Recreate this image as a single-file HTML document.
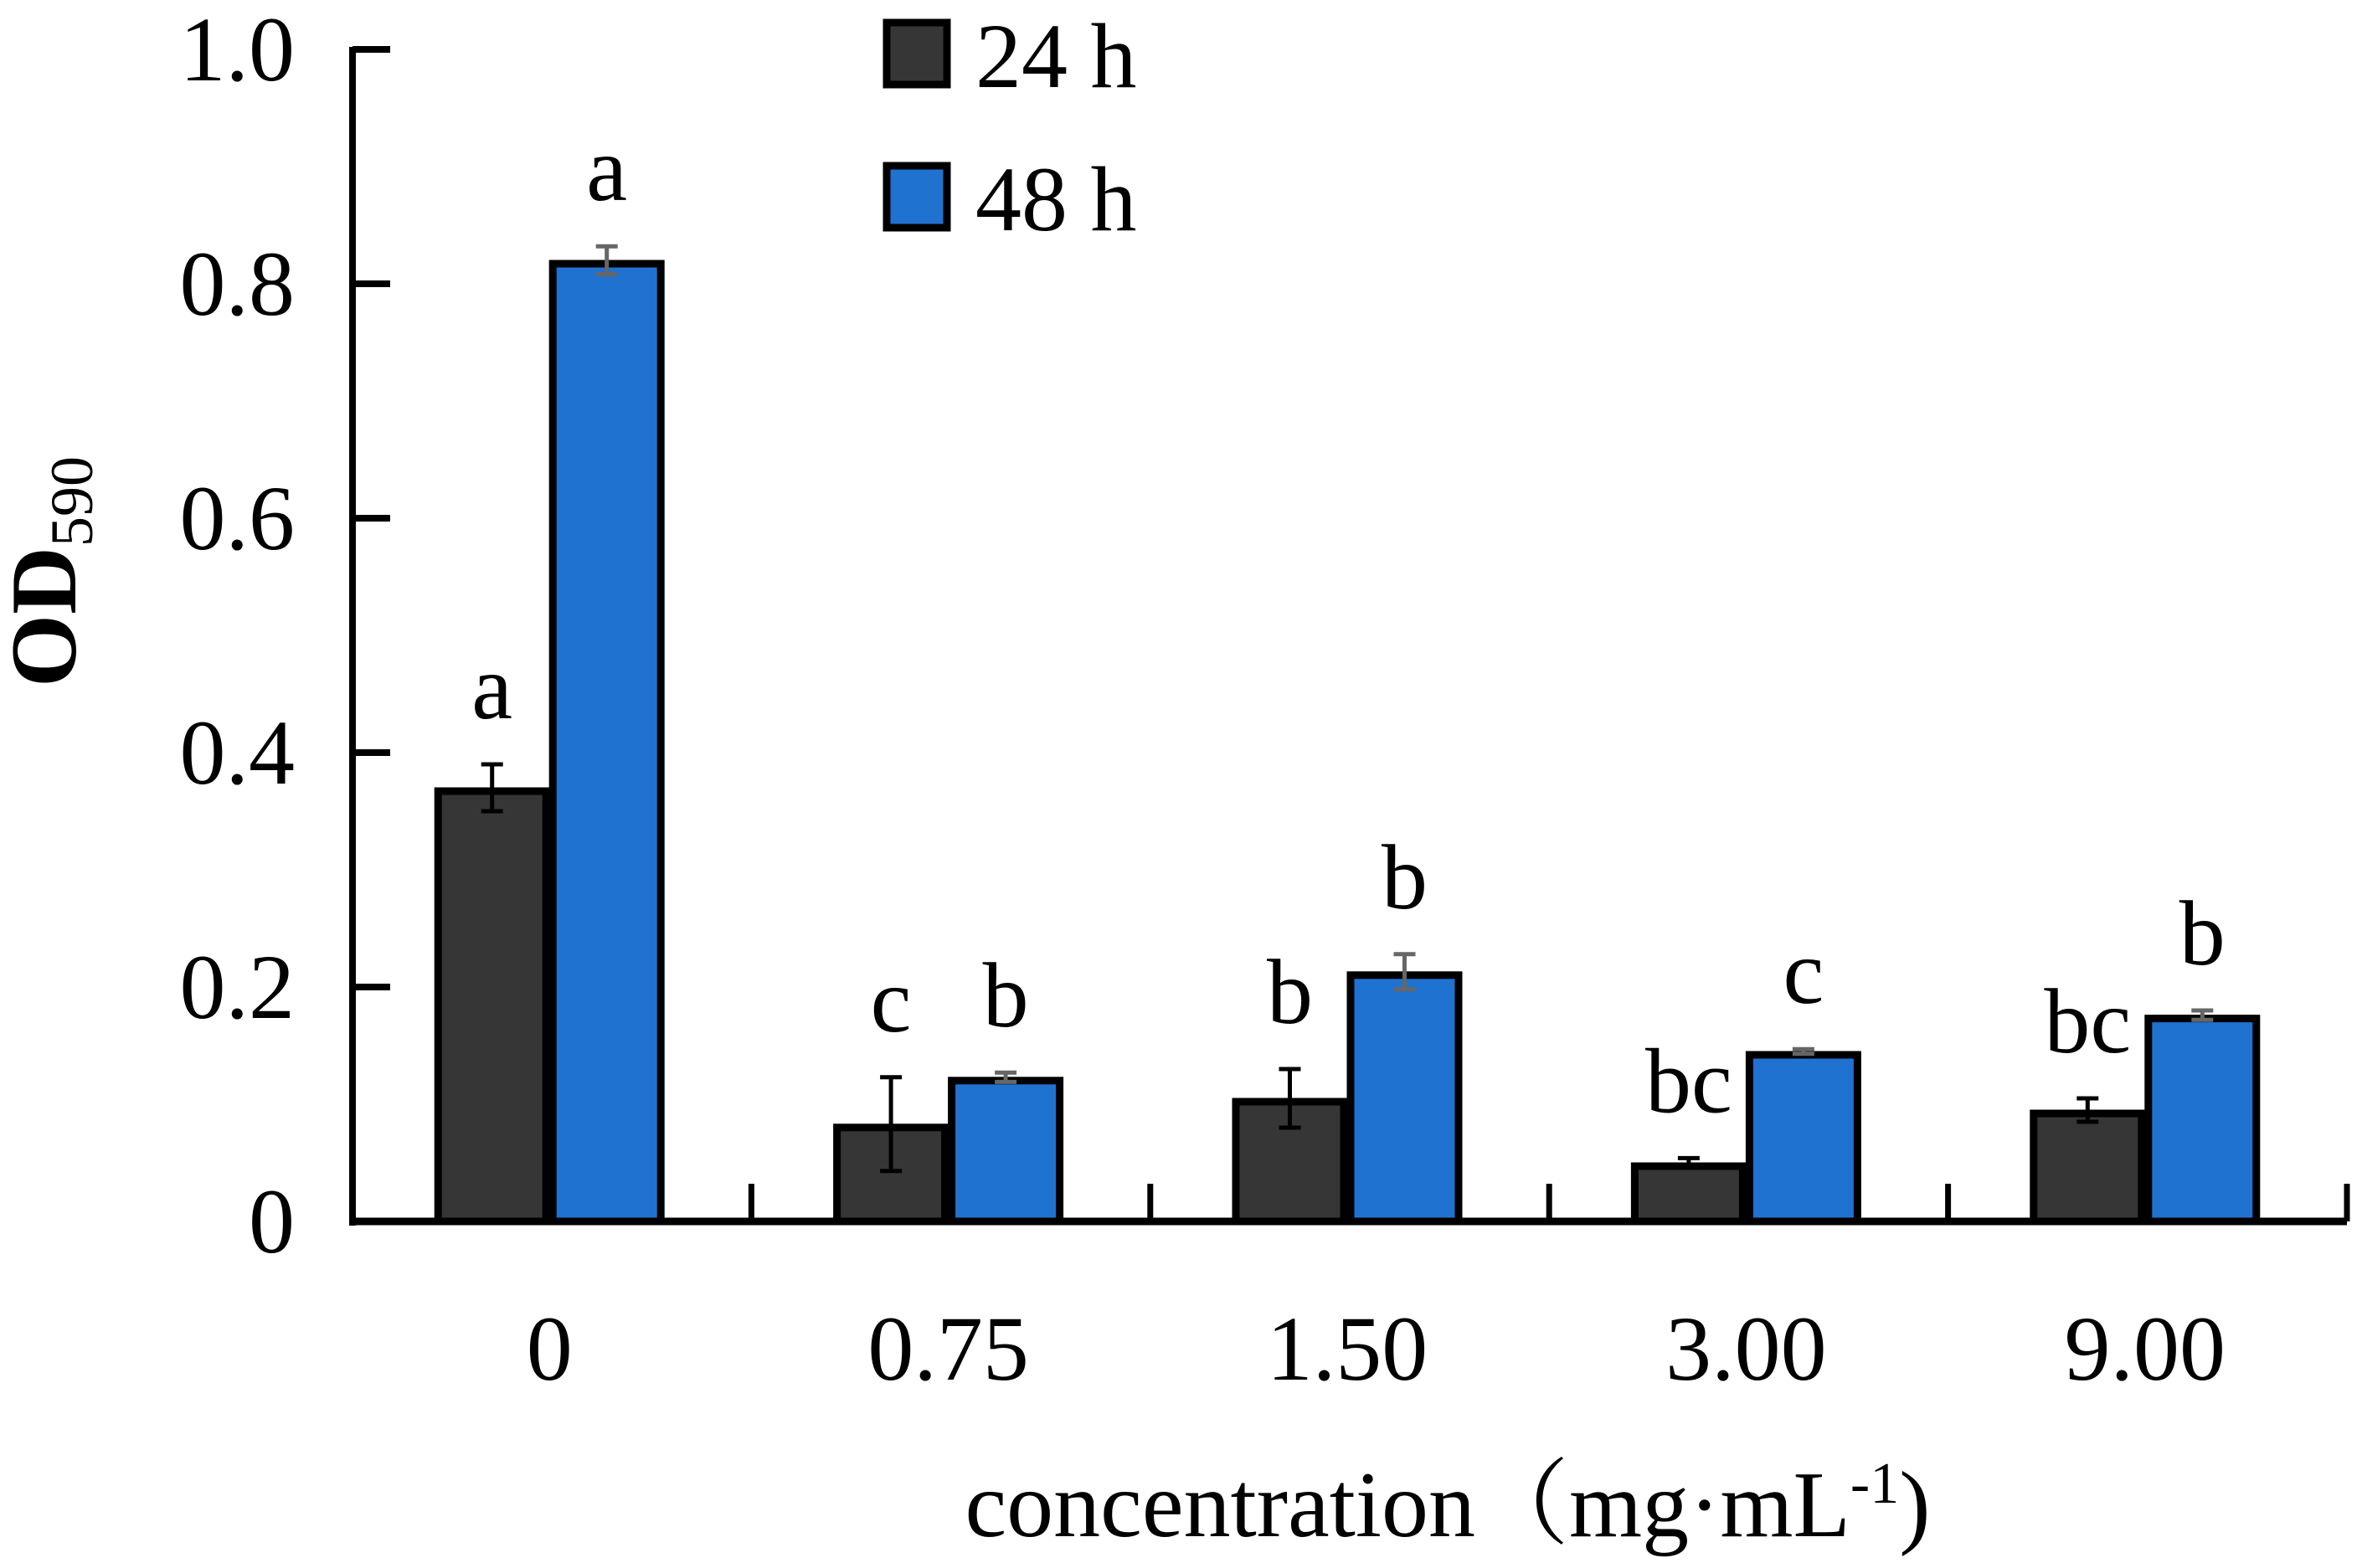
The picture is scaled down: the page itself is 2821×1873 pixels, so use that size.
<!DOCTYPE html>
<html><head><meta charset="utf-8">
<style>
html,body{margin:0;padding:0;background:#fff;}
svg{display:block;}
text{font-family:"Liberation Serif","Noto Serif CJK SC",serif;fill:#000;}
</style></head>
<body>
<svg id="chart" width="2821" height="1873" viewBox="0 0 2821 1873" xmlns="http://www.w3.org/2000/svg">
<g id="bars"></g>
<g id="axes"></g>
<g>
  <rect x="1059" y="27" width="72" height="74" fill="#363636" stroke="#000" stroke-width="9"/>
  <text x="1165" y="104" font-size="110">24 h</text>
  <rect x="1059" y="198" width="72" height="74" fill="#1f72d0" stroke="#000" stroke-width="9"/>
  <text x="1165" y="275" font-size="110">48 h</text>
</g>
<text transform="translate(90,683) rotate(-90)" text-anchor="middle" font-size="112" font-weight="bold">OD<tspan font-size="72" dy="20" font-weight="normal">590</tspan></text>
<text x="1729" y="1835" text-anchor="middle" font-size="112">concentration（mg·mL<tspan font-size="70" dy="-40">-1</tspan><tspan dy="40">)</tspan></text>
</svg>
<script>
const categories = ["0","0.75","1.50","3.00","9.00"];
const values24 = [0.37,0.083,0.105,0.05,0.095];
const values48 = [0.82,0.123,0.213,0.145,0.176];
const err24 = [0.02,0.04,0.025,0.004,0.01];
const err48 = [0.012,0.004,0.015,0.002,0.004];
const letters24 = ["a","c","b","bc","bc"];
const letters48 = ["a","b","b","c","b"];
const yTicks = [0,0.2,0.4,0.6,0.8,1.0];
const yTickLabels = ["0","0.2","0.4","0.6","0.8","1.0"];

const NS="http://www.w3.org/2000/svg";
const x0=421, x1=2803, y0=1459, yTop=59;
const catW=(x1-x0)/categories.length;
const barW=137;
function yScale(v){return y0-(v/1.0)*(y0-yTop);}
function xCenter(i){return x0+catW*(i+0.5)-3;}
function mk(tag,attrs,parent){const e=document.createElementNS(NS,tag);for(const k in attrs)e.setAttribute(k,attrs[k]);parent.appendChild(e);return e;}
const bars=document.getElementById('bars');
const axes=document.getElementById('axes');

categories.forEach((c,i)=>{
  const cx=xCenter(i);
  [[values24,err24,letters24,"#363636","#000",-1,"24h"],[values48,err48,letters48,"#1f72d0","#666",0,"48h"]].forEach(s=>{
    const v=s[0][i], e=s[1][i];
    const bx=cx+s[5]*barW;
    const r=mk('rect',{x:bx+4,y:yScale(v)+4,width:barW-8,height:y0-yScale(v)-4,fill:s[3],stroke:'#000','stroke-width':9},bars);
    
    
    const ex=bx+barW/2;
    const eb=mk('path',{d:`M${ex},${yScale(v+e)}V${yScale(v-e)}M${ex-13},${yScale(v+e)}H${ex+13}M${ex-13},${yScale(v-e)}H${ex+13}`,stroke:s[4],'stroke-width':5,fill:'none'},bars);
    
    
    const t=mk('text',{x:ex,y:yScale(v+e)-55,'text-anchor':'middle','font-size':110},bars);
    t.textContent=s[2][i];
    
    
  });
  const lb=mk('text',{x:cx,y:1648,'text-anchor':'middle','font-size':110},axes);
  lb.textContent=c;
  
  
  const tk=mk('line',{x1:x0+catW*(i+1),x2:x0+catW*(i+1),y1:y0,y2:y0-45,stroke:'#000','stroke-width':7},axes);
  
  
});
const ya=mk('line',{x1:x0,x2:x0,y1:yTop-3,y2:y0+5,stroke:'#000','stroke-width':8},axes);


const xa=mk('line',{x1:x0-4,x2:x1,y1:y0,y2:y0,stroke:'#000','stroke-width':9},axes);


yTicks.forEach((v,i)=>{
  const t=mk('line',{x1:x0,x2:x0+45,y1:yScale(v),y2:yScale(v),stroke:'#000','stroke-width':8},axes);
  
  
  const l=mk('text',{x:352,y:yScale(v)+37,'text-anchor':'end','font-size':110},axes);
  l.textContent=yTickLabels[i];
  
  
});
</script>
</body></html>
